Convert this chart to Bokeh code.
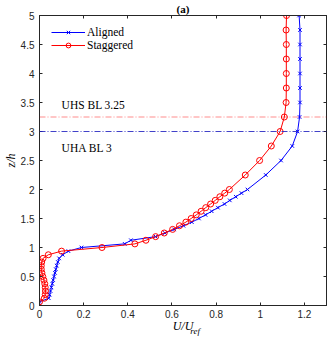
from bokeh.plotting import figure
from bokeh.models import (Span, Label, Legend, LegendItem, LinearAxis, FixedTicker, Range1d)
from bokeh.embed import file_html
from bokeh.resources import INLINE

# ---- data ----
z = [0.0625, 0.125, 0.1875, 0.25, 0.3125, 0.375, 0.4375, 0.5, 0.5625, 0.625, 0.6875, 0.75,
     0.8125, 0.875, 0.9375, 1.0, 1.0625, 1.125, 1.1875, 1.25, 1.3125, 1.375, 1.4375, 1.5,
     1.5625, 1.625, 1.6875, 1.75, 1.8125, 1.875, 1.9375, 2.0, 2.25, 2.5, 2.75, 3.0, 3.25,
     3.5, 3.75, 4.0, 4.25, 4.5, 4.75, 5.0]
u_aligned = [0.0, 0.042, 0.046, 0.050, 0.054, 0.058, 0.062, 0.066, 0.070, 0.074, 0.078, 0.083,
             0.089, 0.105, 0.131, 0.190, 0.386, 0.414, 0.526, 0.568, 0.610, 0.652, 0.690, 0.722,
             0.752, 0.780, 0.808, 0.838, 0.862, 0.889, 0.915, 0.942, 1.025, 1.094, 1.145, 1.169,
             1.178, 1.180, 1.180, 1.180, 1.180, 1.180, 1.180, 1.176]
u_staggered = [0.0, 0.022, 0.026, 0.027, 0.026, 0.024, 0.020, 0.015, 0.011, 0.008, 0.008, 0.010,
               0.016, 0.040, 0.100, 0.283, 0.432, 0.482, 0.526, 0.565, 0.603, 0.634, 0.663, 0.687,
               0.710, 0.732, 0.753, 0.775, 0.796, 0.817, 0.839, 0.860, 0.932, 0.997, 1.050, 1.090,
               1.109, 1.117, 1.118, 1.118, 1.118, 1.118, 1.117, 1.119]
series_names = ["Aligned", "Staggered"]
bl_heights = [3.0, 3.25]
bl_texts = ["UHA BL 3", "UHS BL 3.25"]
x_ticks = [0, 0.2, 0.4, 0.6, 0.8, 1, 1.2]
x_tick_labels = ["0", "0.2", "0.4", "0.6", "0.8", "1", "1.2"]
y_ticks = [0, 0.5, 1, 1.5, 2, 2.5, 3, 3.5, 4, 4.5, 5]
y_tick_labels = ["0", "0.5", "1", "1.5", "2", "2.5", "3", "3.5", "4", "4.5", "5"]
title_text = "(a)"
y_label = "z/h"
x_label_main = "U/U"
x_label_sub = "ref"

AX = "#262626"
SERIF = "Liberation Serif"
SANS = "Liberation Sans"

p = figure(width=328, height=339, output_backend="svg", toolbar_location=None,
           x_range=Range1d(0, 1.3), y_range=Range1d(0, 5),
           min_border_left=39, min_border_right=2, min_border_top=15, min_border_bottom=34)
p.xgrid.visible = False
p.ygrid.visible = False
p.outline_line_color = AX
p.background_fill_color = "white"

p.title.text = title_text
p.title.align = "center"
p.title.text_font = SERIF
p.title.text_font_size = "11px"
p.title.text_font_style = "bold"
p.title.text_color = "black"
p.title.standoff = 1

bottom_ax = p.xaxis[0]
left_ax = p.yaxis[0]

def style_axis(ax, ticks, labels, show_labels, standoff):
    ax.ticker = FixedTicker(ticks=ticks)
    ax.major_label_overrides = {t: (l if show_labels else "") for t, l in zip(ticks, labels)}
    ax.major_tick_in = 3
    ax.major_tick_out = 0
    ax.minor_tick_line_color = None
    ax.axis_line_color = AX
    ax.major_tick_line_color = AX
    ax.major_label_text_font = SANS
    ax.major_label_text_font_size = "10px"
    ax.major_label_text_color = AX
    ax.major_label_standoff = standoff

style_axis(bottom_ax, x_ticks, x_tick_labels, True, 4)
style_axis(left_ax, y_ticks, y_tick_labels, True, 5)
top_ax = LinearAxis()
right_ax = LinearAxis()
style_axis(top_ax, x_ticks, x_tick_labels, False, 0)
style_axis(right_ax, y_ticks, y_tick_labels, False, 0)
p.add_layout(top_ax, "above")
p.add_layout(right_ax, "right")

# axis labels
left_ax.axis_label = y_label
left_ax.axis_label_text_font = SERIF
left_ax.axis_label_text_font_size = "12px"
left_ax.axis_label_text_font_style = "italic"
left_ax.axis_label_text_color = "black"
left_ax.axis_label_standoff = 0

bottom_ax.axis_label = x_label_main
bottom_ax.axis_label_text_font = SERIF
bottom_ax.axis_label_text_font_size = "12px"
bottom_ax.axis_label_text_font_style = "italic"
bottom_ax.axis_label_text_color = "black"
bottom_ax.axis_label_standoff = -2

# subscript of the x-axis label, placed right after "U/U"
sub_pos = 0.705
sub_ax = LinearAxis(ticker=FixedTicker(ticks=[sub_pos]), axis_line_color=None, major_tick_in=0,
                    major_tick_out=0, minor_tick_line_color=None, major_tick_line_color=None,
                    major_label_overrides={sub_pos: x_label_sub},
                    major_label_text_font=SERIF, major_label_text_font_size="9px",
                    major_label_text_font_style="italic", major_label_text_color="black",
                    major_label_standoff=-10)
p.add_layout(sub_ax, "below")

# boundary-layer lines
p.add_layout(Span(location=bl_heights[1], dimension="width", line_color="red", line_alpha=0.45,
                  line_width=1, line_dash="6 2 1 2"))
p.add_layout(Span(location=bl_heights[0], dimension="width", line_color="#2020c0", line_alpha=0.85,
                  line_width=1, line_dash="6 2 1 2"))

# series
la = p.line(u_aligned, z, line_color="blue", line_width=1)
ma = p.scatter(u_aligned, z, marker="x", size=5, line_color="blue", line_width=1)
ls = p.line(u_staggered, z, line_color="red", line_width=1)
ms = p.scatter(u_staggered, z, marker="circle", size=6, line_color="red", fill_color=None, line_width=1)

legend = Legend(items=[LegendItem(label=series_names[0], renderers=[la, ma]),
                       LegendItem(label=series_names[1], renderers=[ls, ms])],
                location=(12, 254), border_line_color=None, background_fill_alpha=0,
                padding=0, margin=0, spacing=1, glyph_width=34, glyph_height=12,
                label_height=12, label_standoff=2,
                label_text_font=SERIF, label_text_font_size="11.5px", label_text_color="black")
p.add_layout(legend, "center")

# annotations
p.add_layout(Label(x=0.10, y=3.46, text=bl_texts[1], text_font=SERIF, text_font_size="11.5px",
                   text_baseline="middle", text_color="black"))
p.add_layout(Label(x=0.10, y=2.72, text=bl_texts[0], text_font=SERIF, text_font_size="11.5px",
                   text_baseline="middle", text_color="black"))

open("out.html", "w").write(file_html(p, INLINE))
